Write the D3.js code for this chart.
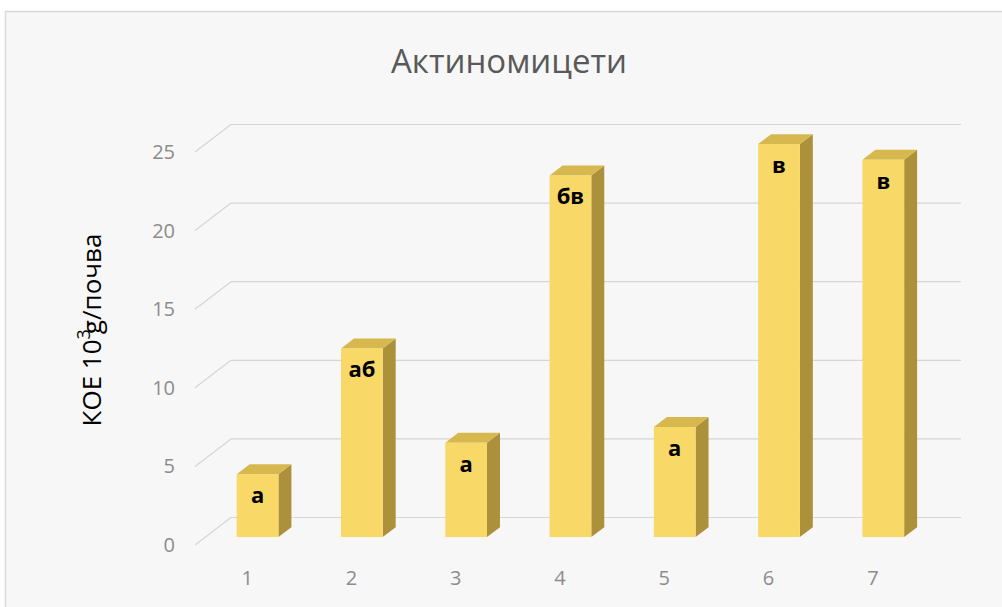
<!DOCTYPE html>
<html>
<head>
<meta charset="utf-8">
<script src="https://cdn.jsdelivr.net/npm/d3@7/dist/d3.min.js"></script>
<style>
  html, body { margin: 0; padding: 0; background: #ffffff; }
  svg { display: block; }
</style>
</head>
<body>
<svg id="chart" width="1002" height="607"></svg>
<script>
// Chart data
const categories = ["1", "2", "3", "4", "5", "6", "7"];
const values = [4, 12, 6, 23, 7, 25, 24];
const groupLabels = ["а", "аб", "а", "бв", "а", "в", "в"];
const yTicks = [0, 5, 10, 15, 20, 25];
const titleText = "Актиномицети";

const svg = d3.select("#chart");

// Chart area background
svg.append("rect")
  .attr("x", 5.5).attr("y", 11.5)
  .attr("width", 1100).attr("height", 700)
  .attr("fill", "#f7f7f7")
  .attr("stroke", "#d9d9d9")
  .attr("stroke-width", 1.5);

// Front plane scales and depth vector of the 3D box
const x = d3.scaleBand().domain(categories).range([195, 925]).paddingInner(0).paddingOuter(0);
const y = d3.scaleLinear().domain([0, 25]).range([545, 152]);
const depth = { dx: 36, dy: -27.5 };
const t0 = 0.29, t1 = 0.65;       // bar front / back depth fractions
const barFrac = 0.40;             // bar width as a fraction of the band

// Title
svg.append("text")
  .attr("x", 509).attr("y", 73)
  .attr("text-anchor", "middle")
  .attr("font-family", "'Open Sans', sans-serif")
  .attr("font-size", 33)
  .attr("fill", "#595959")
  .text(titleText);

// Gridlines: back wall and left side wall
const grid = svg.append("g").attr("stroke", "#d6d6d6").attr("stroke-width", 1.2).attr("fill", "none");
yTicks.forEach(v => {
  const yf = y(v);
  grid.append("line")
    .attr("x1", x.range()[0] + depth.dx).attr("x2", x.range()[1] + depth.dx)
    .attr("y1", yf + depth.dy).attr("y2", yf + depth.dy);
  grid.append("line")
    .attr("x1", x.range()[0]).attr("y1", yf)
    .attr("x2", x.range()[0] + depth.dx).attr("y2", yf + depth.dy);
});

// Y axis tick labels
const yAxis = svg.append("g")
  .attr("transform", "translate(175,0)")
  .call(d3.axisLeft(y).tickValues(yTicks).tickSize(0).tickPadding(0));
yAxis.select(".domain").remove();
yAxis.selectAll("text")
  .attr("font-family", "'Open Sans', sans-serif")
  .attr("font-size", 20)
  .attr("fill", "#8c8c8c");

// X axis category labels
const xAxis = svg.append("g")
  .attr("transform", "translate(0,571)")
  .call(d3.axisBottom(x).tickSize(0).tickPadding(0));
xAxis.select(".domain").remove();
xAxis.selectAll("text")
  .attr("font-family", "'Open Sans', sans-serif")
  .attr("font-size", 20)
  .attr("fill", "#8c8c8c");

// Y axis title
const yTitle = svg.append("text")
  .attr("transform", "translate(101,330) rotate(-90)")
  .attr("text-anchor", "middle")
  .attr("font-family", "'Open Sans', sans-serif")
  .attr("font-size", 26)
  .attr("fill", "#000000");
yTitle.append("tspan").text("КОЕ 10");
yTitle.append("tspan").attr("font-size", 18).attr("dy", -11).text("3");
yTitle.append("tspan").attr("dy", 11).attr("dx", -5).text("g/почва");

// 3D bars
const colors = { front: "#f8d866", top: "#d6b84f", side: "#ad903a" };
const bars = svg.append("g");
const ddx = depth.dx * (t1 - t0), ddy = depth.dy * (t1 - t0);

categories.forEach((c, i) => {
  const w = x.bandwidth() * barFrac;
  const x0 = x(c) + (x.bandwidth() - w) / 2 + depth.dx * t0;
  const x1 = x0 + w;
  const yTop = y(values[i]) + depth.dy * t0;
  const yBot = y(0) + depth.dy * t0;
  const g = bars.append("g");
  // side face
  g.append("polygon")
    .attr("points", [[x1, yTop], [x1 + ddx, yTop + ddy], [x1 + ddx, yBot + ddy], [x1, yBot]].map(p => p.join(",")).join(" "))
    .attr("fill", colors.side);
  // top face
  g.append("polygon")
    .attr("points", [[x0, yTop], [x1, yTop], [x1 + ddx, yTop + ddy], [x0 + ddx, yTop + ddy]].map(p => p.join(",")).join(" "))
    .attr("fill", colors.top);
  // front face
  g.append("rect")
    .attr("x", x0).attr("y", yTop)
    .attr("width", w).attr("height", yBot - yTop)
    .attr("fill", colors.front);
  // significance group label
  g.append("text")
    .attr("x", (x0 + x1) / 2)
    .attr("y", yTop + 29)
    .attr("text-anchor", "middle")
    .attr("font-family", "'Open Sans', sans-serif")
    .attr("font-weight", "bold")
    .attr("font-size", 22)
    .attr("fill", "#000000")
    .text(groupLabels[i]);
});
</script>
</body>
</html>
